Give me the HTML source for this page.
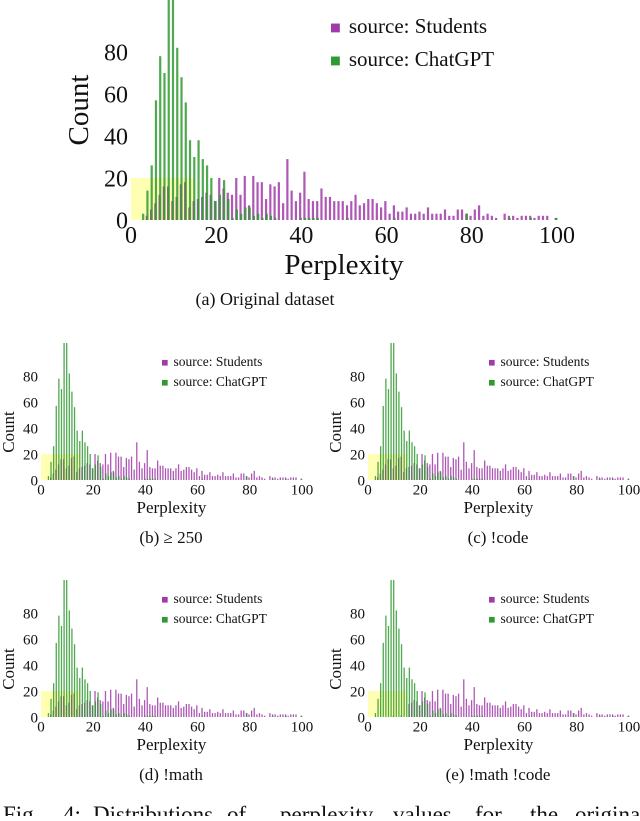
<!DOCTYPE html>
<html><head><meta charset="utf-8"><style>
body{margin:0;background:#fff;width:640px;height:816px;overflow:hidden}
svg text{font-family:"Liberation Serif",serif;fill:#111}
</style></head><body>
<svg id="fig" width="640" height="816" xmlns="http://www.w3.org/2000/svg"></svg>
<script>
const students=[0,0,0,2,5,8,12,16,16,9,11,17,18,6,9,10,11,13,12,9,20,15,13,12,20,12,21,7,21,18,18,10,17,16,18,8,29,14,9,13,23,10,9,9,15,11,11,9,9,9,7,9,12,7,8,10,10,8,6,9,3,7,4,4,6,3,3,4,3,6,3,3,3,5,2,2,5,5,3,2,5,7,2,3,2,1,0,3,2,2,1,2,2,2,1,2,2,2,0,1];
const chatgpt=[0,0,3,14,26,57,78,70,108,108,82,68,56,38,30,38,29,26,20,9,12,19,10,1,5,3,6,6,2,3,1,3,2,1,0,0,0,0,0,1,1,1,1,1,0,0,0,0,0,0,1,0,0,0,0,0,0,0,0,0,0,1,0,0,0,0,0,0,0,0,0,0,0,0,0,0,0,0,3,0,0,0,0,0,0,0,0,0,1,0,0,0,0,1,0,0,0,0,0,1];
const xTicks=[0,20,40,60,80,100];
const yTicks=[0,20,40,60,80];
const seriesNames=["source: Students","source: ChatGPT"];
const NS="http://www.w3.org/2000/svg";
const svg=document.getElementById('fig');
function mk(tag,attrs,parent,txt){const e=document.createElementNS(NS,tag);for(const k in attrs)e.setAttribute(k,attrs[k]);if(txt!==undefined)e.textContent=txt;(parent||svg).appendChild(e);return e;}
function chart(p){
  const g=mk('g',{});
  
  
  const X=v=>p.x0+v*p.sx, Y=v=>p.y0-v*p.sy;
  const hl=mk('rect',{x:X(0),y:Y(20),width:X(15)-X(0),height:Y(0)-Y(20),fill:'#ffff99',opacity:0.75},g);
  
  
  const top=p.top;
  const st=p.students;
  for(let i=0;i<st.length;i++){if(!st[i])continue;const yy=Math.max(top,Y(st[i]));
    const r=mk('rect',{x:X(i+0.45),y:yy,width:p.bw,height:Y(0)-yy,fill:'#a03aa8',opacity:0.85},g);
    
    }
  for(let i=0;i<chatgpt.length;i++){if(!chatgpt[i])continue;const yy=Math.max(top,Y(chatgpt[i]));
    const r=mk('rect',{x:X(i+0.6),y:yy,width:p.bw,height:Y(0)-yy,fill:'#2f9a30',opacity:0.85},g);
    
    }
  xTicks.forEach(t=>{const e=mk('text',{x:X(t),y:p.y0+p.fs*0.95,'font-size':p.fs,'text-anchor':'middle'},g,String(t));
    
    });
  yTicks.forEach(t=>{const e=mk('text',{x:p.x0-3,y:Y(t)+p.fs*0.35,'font-size':p.fs,'text-anchor':'end'},g,String(t));
    
    });
  const yl=mk('text',{x:p.ylx,y:p.yly,'font-size':p.lfs,'text-anchor':'middle',transform:`rotate(-90 ${p.ylx} ${p.yly})`},g,'Count');
  
  
  const xl=mk('text',{x:X(50),y:p.xly,'font-size':p.xlfs,'text-anchor':'middle'},g,'Perplexity');
  
  
  [['#a03aa8',0],['#2f9a30',1]].forEach(([c,k])=>{
    const ly=p.legy+k*p.legdy;
    const s=mk('rect',{x:p.legx,y:ly-p.legfs*0.45,width:p.legfs*0.42,height:p.legfs*0.42,fill:c},g);
    
    
    const t=mk('text',{x:p.legx+p.legfs*0.85,y:ly,'font-size':p.legfs},g,seriesNames[k]);
    
    });
  const cap=mk('text',{x:p.capx,y:p.capy,'font-size':p.capfs,'text-anchor':'middle'},g,p.cap);
  
  
}
const stE=students.map((v,i)=>i<15?(i>6&&i%3==0?1:0):v);
chart({name:'chart-original',students,x0:131,y0:220,sx:4.26,sy:2.1,bw:2.2,top:0,fs:24,lfs:29,xlfs:29,ylx:88,yly:110,xly:274,legx:331,legy:33,legdy:33,legfs:21,capx:265,capy:305,capfs:18,cap:'(a) Original dataset'});
const small=[['chart-b',0,480,'(b) ≥ 250',students],['chart-c',327,480,'(c) !code',students],['chart-d',0,717,'(d) !math',students],['chart-e',327,717,'(e) !math !code',stE]];
small.forEach(([n,ox,by,cap,st])=>{
  chart({name:n,students:st,x0:ox+41,y0:by,sx:2.61,sy:1.3,bw:1.3,top:by-137,fs:15,lfs:17,xlfs:17,ylx:ox+14,yly:by-48,xly:by+33,legx:ox+162,legy:by-114,legdy:20,legfs:13.5,capx:ox+171,capy:by+63,capfs:17,cap});
});
const words=[['Fig.',3],['4:',63],['Distributions',93],['of',227],['perplexity',280],['values',393],['for',475],['the',530],['original',575]];
const f=mk('text',{y:822,'font-size':23},svg);


words.forEach(([w,x])=>{mk('tspan',{x:x},f,w);});
</script>
</body></html>
